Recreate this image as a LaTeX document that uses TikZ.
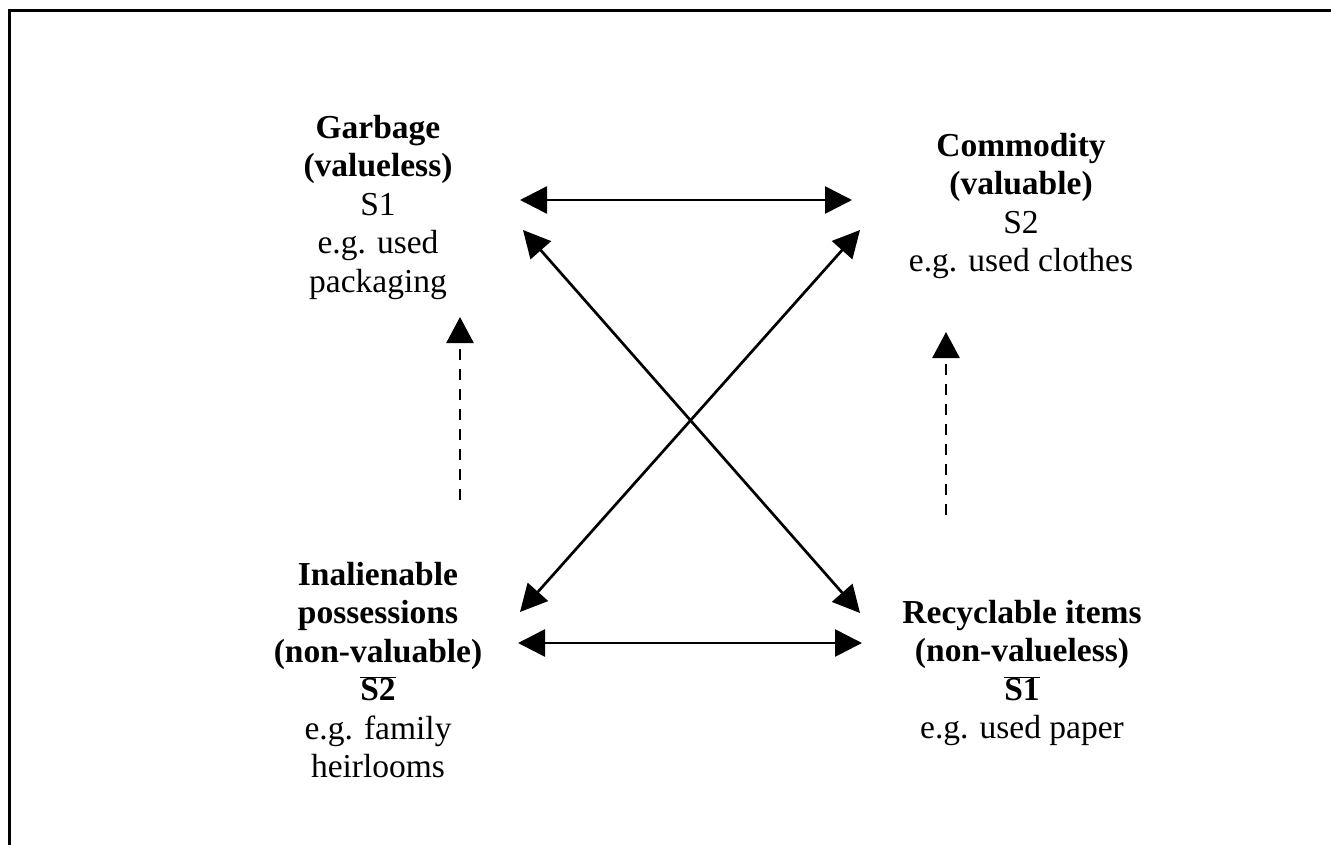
\documentclass[tikz,border=0pt]{standalone}
\usepackage{fontspec}
\setmainfont{Liberation Serif}
\usetikzlibrary{arrows.meta}
\begin{document}
\begin{tikzpicture}[x=1pt,y=-1pt,
  state/.style={align=center, font=\fontsize{33.5}{38.5}\selectfont,
    inner sep=0pt, anchor=north},
  link/.style={line width=2.7pt,
    {Triangle[length=27pt,width=27pt]}-{Triangle[length=27pt,width=27pt]}},
  drift/.style={line width=2.7pt, dash pattern=on 11pt off 9pt,
    -{Triangle[length=26pt,width=27pt]}}
]
\useasboundingbox (0,0) rectangle (1331,844);
% frame (top and left edges)
\draw[line width=3pt] (9,850) -- (9,10) -- (1340,10);

% the four states
\node[state] (garbage) at (378,115)
  {\textbf{Garbage}\\\textbf{(valueless)}\\S1\\e.g. used\\packaging};
\node[state] (commodity) at (1021,133)
  {\textbf{Commodity}\\\textbf{(valuable)}\\S2\\e.g. used clothes};
\node[state] (inalienable) at (378,562)
  {\textbf{Inalienable}\\\textbf{possessions}\\\textbf{(non-valuable)}\\$\overline{\mbox{\textbf{S2}}}$\\e.g. family\\heirlooms};
\node[state] (recyclable) at (1022,600)
  {\textbf{Recyclable items}\\\textbf{(non-valueless)}\\$\overline{\mbox{\textbf{S1}}}$\\e.g. used paper};

% connector ends
\coordinate (g-e) at (520,200);
\coordinate (c-w) at (852,200);
\coordinate (g-se) at (523,230);
\coordinate (c-sw) at (860,230);
\coordinate (i-ne) at (520,612);
\coordinate (r-nw) at (860,613);
\coordinate (i-e) at (518,643);
\coordinate (r-w) at (862,643);
\coordinate (g-s) at (460,317);
\coordinate (i-n) at (460,500);
\coordinate (c-s) at (946,332);
\coordinate (r-n) at (946,515);

% transitions
\draw[link] (g-e) -- (c-w);
\draw[link] (i-e) -- (r-w);
\draw[link] (g-se) -- (r-nw);
\draw[link] (c-sw) -- (i-ne);
\draw[drift] (i-n) -- (g-s);
\draw[drift] (r-n) -- (c-s);
\end{tikzpicture}
\end{document}
